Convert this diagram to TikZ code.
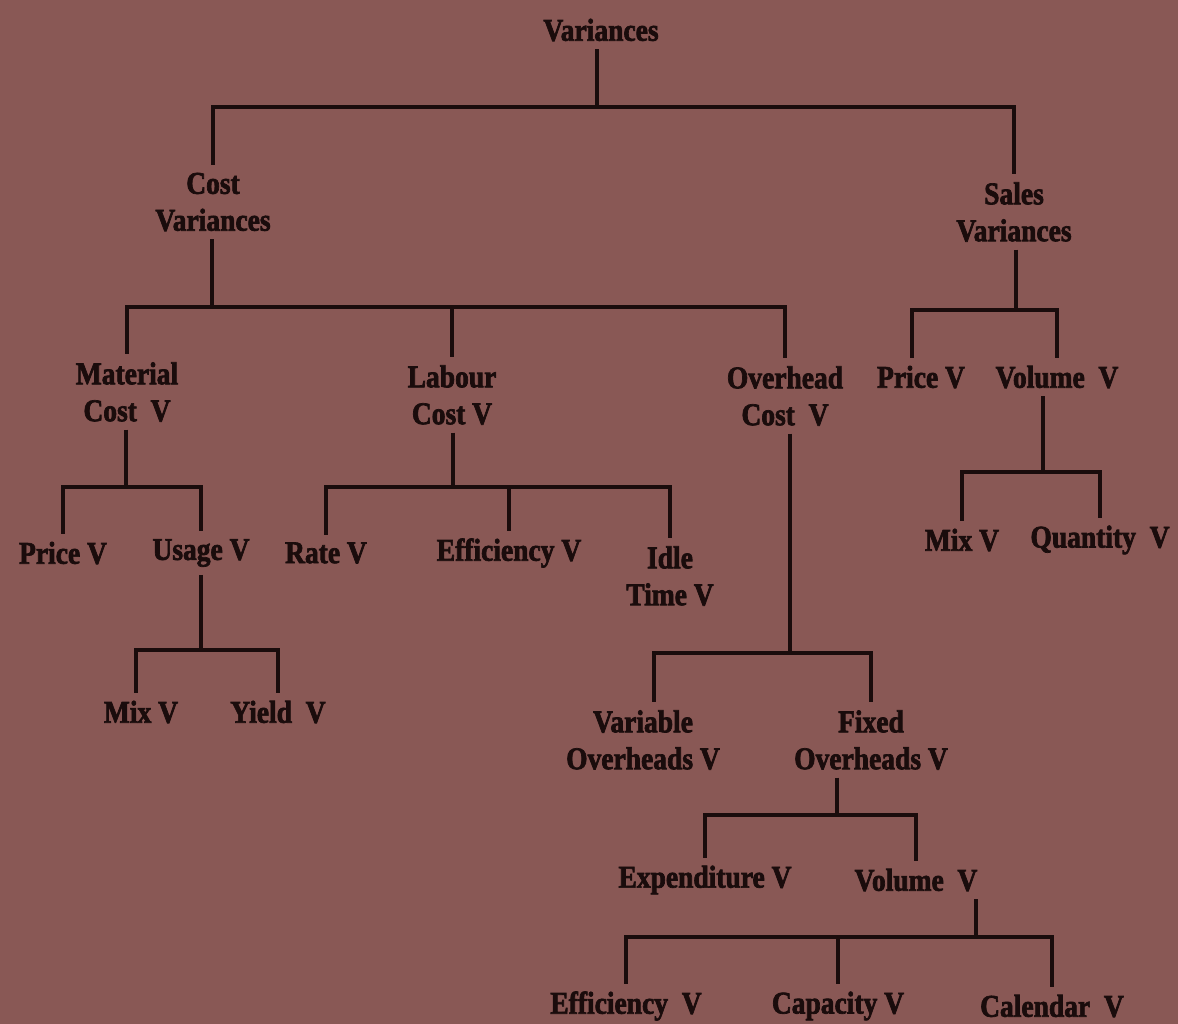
\documentclass[tikz,border=0pt]{standalone}
\usepackage{fontspec}
\setmainfont{Liberation Serif}[FakeStretch=0.87, BoldFeatures={FakeBold=2.2}]
\usepackage{tikz}
\definecolor{scanbg}{RGB}{137,88,85}
\definecolor{scanink}{RGB}{26,12,12}

\begin{document}
\begin{tikzpicture}[x=0.02cm, y=-0.02cm,
  vnode/.style={font=\fontsize{18}{21}\selectfont\bfseries, text=scanink, align=center, inner sep=2pt, outer sep=2.5pt},
  branch/.style={draw=scanink, line width=2.7pt, line join=miter}]
  % page
  \fill[scanbg] (0,0) rectangle (1178,1024);
  \useasboundingbox (0,0) rectangle (1178,1024);

  % top levels
  \node[vnode] (var) at (601,30) {Variances};
  \node[vnode] (cost) at (213,202) {Cost\\Variances};
  \node[vnode] (sales) at (1014,212) {Sales\\Variances};

  % cost side
  \node[vnode] (mat) at (127,392) {Material\\Cost~~V};
  \node[vnode] (lab) at (452,395) {Labour\\Cost V};
  \node[vnode] (ovh) at (785,396) {Overhead\\Cost~~V};
  \node[vnode] (mprice) at (63,553) {Price V};
  \node[vnode] (musage) at (201,553) {Usage V};
  \node[vnode] (lrate) at (326,553) {Rate V};
  \node[vnode] (leff) at (509,553) {Efficiency V};
  \node[vnode] (lidle) at (670,576) {Idle\\Time V};
  \node[vnode] (mmix) at (141,712) {Mix V};
  \node[vnode] (myield) at (278,712) {Yield~~V};
  \node[vnode] (ovar) at (643,740) {Variable\\Overheads V};
  \node[vnode] (ofix) at (871,740) {Fixed\\Overheads V};
  \node[vnode] (fexp) at (705,880) {Expenditure V};
  \node[vnode] (fvol) at (916,880) {Volume~~V};
  \node[vnode] (veff) at (626,1006) {Efficiency~~V};
  \node[vnode] (vcap) at (838,1006) {Capacity V};
  \node[vnode] (vcal) at (1052,1006) {Calendar~~V};

  % sales side
  \node[vnode] (spr) at (921,377) {Price V};
  \node[vnode] (svol) at (1057,377) {Volume~~V};
  \node[vnode] (smix) at (962,540) {Mix V};
  \node[vnode] (squant) at (1100,540) {Quantity~~V};

  % junctions
  \coordinate (j0) at (597,107);
  \coordinate (jcost) at (212,307);
  \coordinate (jsales) at (1016,310);
  \coordinate (jmat) at (126,487);
  \coordinate (jlab) at (453,487);
  \coordinate (jovh) at (790,653);
  \coordinate (jusage) at (201,650);
  \coordinate (jfix) at (837,815);
  \coordinate (jfvol) at (976,937);
  \coordinate (jsvol) at (1043,472);

  % branches
  \draw[branch] (var.south -| j0) -- (j0);
  \draw[branch] (j0) -| (cost);
  \draw[branch] (j0) -| (sales);

  \draw[branch] (cost.south -| jcost) -- (jcost);
  \foreach \kid in {mat, lab, ovh}
    \draw[branch] (jcost) -| (\kid);

  \draw[branch] (sales.south -| jsales) -- (jsales);
  \draw[branch] (jsales) -| ([xshift=-0.18cm]spr.north);
  \draw[branch] (jsales) -| (svol);

  \draw[branch] (mat.south -| jmat) -- (jmat);
  \foreach \kid in {mprice, musage}
    \draw[branch] (jmat) -| (\kid);

  \draw[branch] (lab.south -| jlab) -- (jlab);
  \foreach \kid in {lrate, leff, lidle}
    \draw[branch] (jlab) -| (\kid);

  \draw[branch] (musage.south -| jusage) -- (jusage);
  \draw[branch] (jusage) -| ([xshift=-0.1cm]mmix.north);
  \draw[branch] (jusage) -| (myield);

  \draw[branch] (ovh.south -| jovh) -- (jovh);
  \draw[branch] (jovh) -| ([xshift=0.22cm]ovar.north);
  \draw[branch] (jovh) -| (ofix);

  \draw[branch] (ofix.south -| jfix) -- (jfix);
  \foreach \kid in {fexp, fvol}
    \draw[branch] (jfix) -| (\kid);

  \draw[branch] (fvol.south -| jfvol) -- (jfvol);
  \foreach \kid in {veff, vcap, vcal}
    \draw[branch] (jfvol) -| (\kid);

  \draw[branch] (svol.south -| jsvol) -- (jsvol);
  \foreach \kid in {smix, squant}
    \draw[branch] (jsvol) -| (\kid);
\end{tikzpicture}
\end{document}
